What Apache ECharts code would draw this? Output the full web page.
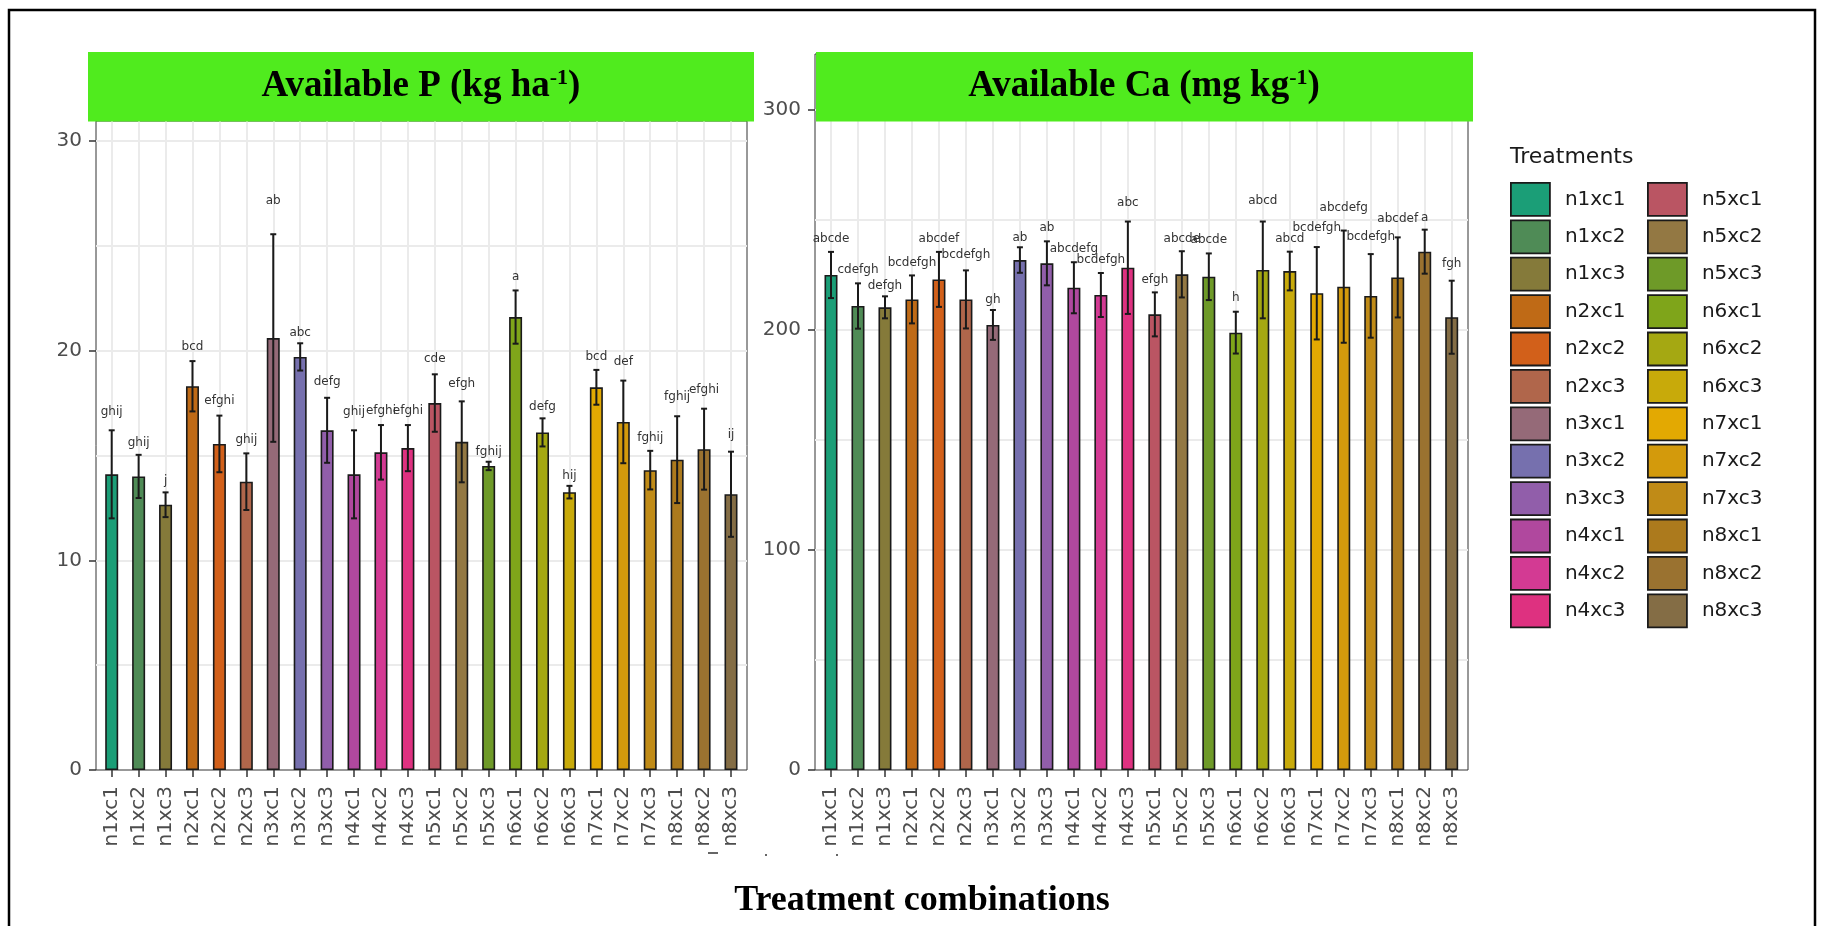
<!DOCTYPE html>
<html>
<head>
<meta charset="utf-8">
<script src="https://cdn.jsdelivr.net/npm/echarts@6/dist/echarts.min.js"></script>
<style>
html,body{margin:0;padding:0;background:#fff;}
#chart{width:1822px;height:926px;}
</style>
</head>
<body>
<div id="chart"></div>
<script>
// ---------- data ----------
const categories = ['n1xc1','n1xc2','n1xc3','n2xc1','n2xc2','n2xc3','n3xc1','n3xc2','n3xc3','n4xc1','n4xc2','n4xc3',
                    'n5xc1','n5xc2','n5xc3','n6xc1','n6xc2','n6xc3','n7xc1','n7xc2','n7xc3','n8xc1','n8xc2','n8xc3'];

const pMean    = [14.1, 14.0, 12.65, 18.3, 15.55, 13.75, 20.6, 19.7, 16.2, 14.1, 15.15, 15.35, 17.5, 15.65, 14.5, 21.6, 16.1, 13.25, 18.25, 16.6, 14.3, 14.8, 15.3, 13.15];
const pSE      = [2.1, 1.03, 0.59, 1.2, 1.35, 1.35, 4.95, 0.65, 1.55, 2.1, 1.3, 1.1, 1.37, 1.93, 0.2, 1.27, 0.67, 0.3, 0.83, 1.97, 0.92, 2.07, 1.93, 2.03];
const pLetterY = [17.1, 15.62, 13.8, 20.2, 17.62, 15.72, 27.16, 20.84, 18.53, 17.1, 17.14, 17.14, 19.6, 18.41, 15.15, 23.5, 17.34, 14.03, 19.68, 19.46, 15.84, 17.78, 18.14, 16.0];
const pLetters = ['ghij','ghij','j','bcd','efghi','ghij','ab','abc','defg','ghij','efghi','efghi','cde','efgh','fghij','a','defg','hij','bcd','def','fghij','fghij','efghi','ij'];

const caMean    = [225, 210.9, 210.3, 213.9, 223, 213.9, 202.3, 231.8, 230.3, 219.2, 215.9, 228.3, 207.1, 225.3, 224.2, 198.8, 227.3, 226.8, 216.7, 219.7, 215.5, 223.9, 235.6, 205.8];
const caSE      = [10.5, 10.3, 5, 10.9, 12.5, 13.2, 6.8, 5.8, 10, 11.6, 10, 21, 10, 10.5, 10.6, 9.5, 22, 8.8, 21, 25.5, 19, 18.2, 10, 16.6];
const caLetterY = [241.4, 227.3, 220, 230.6, 241.4, 234.1, 213.9, 242, 246.2, 236.8, 231.8, 258, 223, 241.4, 240.9, 214.4, 258.6, 241.2, 246.5, 255.6, 242.1, 250.5, 251, 230];
const caLetters = ['abcde','cdefgh','defgh','bcdefgh','abcdef','bcdefgh','gh','ab','ab','abcdefg','bcdefgh','abc','efgh','abcde','abcde','h','abcd','abcd','bcdefgh','abcdefg','bcdefgh','abcdef','a','fgh'];

const pTicks  = [0, 10, 20, 30];
const caTicks = [0, 100, 200, 300];

const panelTitles = ['Available P (kg ha', 'Available Ca (mg kg'];
const legendTitle = 'Treatments';
const xTitle = 'Treatment combinations';

// ---------- style ----------
const barColors = ['#1B9E77','#4F8B56','#857A3A','#BF6A16','#D2601A','#B0664B','#956A78','#7670AE','#915EAA','#B0489E','#D33A93','#DE3180',
                   '#BA5563','#937843','#6E9A28','#7FA51A','#A5A812','#C8AA0A','#E3A902','#D39A0C','#C08B17','#AC7A1D','#9A7230','#846D45'];
const STRIP = '#50EB1E';
const GRID_LINE = '#EBEBEB';
const AXIS_TXT = '#4D4D4D';
const SANS = 'DejaVu Sans';
const SERIF = 'Liberation Serif';

const L = {frameLeft:96, frameRight:747, top:121, bottom:770, first:111.7, last:731, max:30.95};
const R = {frameLeft:815, frameRight:1468, top:54, bottom:770, first:831, last:1451.7, max:325.45};

function frameGrid(g){ return {left:g.frameLeft, top:g.top, width:g.frameRight-g.frameLeft, height:g.bottom-g.top,
  show:true, borderColor:'#333', borderWidth:1, backgroundColor:'transparent', containLabel:false}; }
function barGrid(g){ return {left:g.first, top:g.top, width:g.last-g.first, height:g.bottom-g.top, show:false, containLabel:false}; }

function hiddenX(gi){ return {type:'value', gridIndex:gi, min:0, max:1, show:false}; }
function catX(gi){
  return {type:'category', gridIndex:gi, data:categories, boundaryGap:false,
    axisLine:{show:false},
    axisTick:{show:true, interval:0, length:7, lineStyle:{color:'#333', width:1.5}},
    axisLabel:{show:true, interval:0, rotate:90, margin:16, fontSize:20, fontFamily:SANS, color:AXIS_TXT},
    splitLine:{show:true, interval:0, lineStyle:{color:GRID_LINE, width:2}}};
}
function splitY(gi, max, step){
  return {type:'value', gridIndex:gi, min:0, max:max, interval:step,
    axisLine:{show:false}, axisTick:{show:false}, axisLabel:{show:false},
    splitLine:{show:true, showMinLine:false, showMaxLine:false, lineStyle:{color:GRID_LINE, width:2}}};
}
function labelY(gi, max, step, ticks){
  return {type:'value', gridIndex:gi, min:0, max:max, interval:step, position:'left',
    axisLine:{show:false},
    axisTick:{show:true, length:7, customValues:ticks, lineStyle:{color:'#333', width:1.5}},
    axisLabel:{show:true, margin:14, customValues:ticks, fontSize:20, fontFamily:SANS, color:AXIS_TXT,
      formatter:function(v){ return ticks.indexOf(v) >= 0 ? String(v) : ''; }},
    splitLine:{show:false}};
}
function hiddenY(gi, max){ return {type:'value', gridIndex:gi, min:0, max:max, show:false, splitLine:{show:false}}; }

function barSeries(values, xi, yi){
  return categories.map(function(name, i){
    return {type:'bar', name:name, xAxisIndex:xi, yAxisIndex:yi, barWidth:13, barGap:'-100%', clip:false, z:2,
      itemStyle:{color:barColors[i], borderColor:'#1a1a1a', borderWidth:1.6},
      data: values.map(function(v, j){ return j === i ? v : null; })};
  });
}
function errSeries(means, ses, ly, letters, xi, yi){
  return {type:'custom', xAxisIndex:xi, yAxisIndex:yi, z:5, silent:true,
    data: means.map(function(v, i){ return [i, v]; }),
    renderItem:function(params, api){
      const i = params.dataIndex;
      const x = api.coord([i, 0])[0];
      const yT = api.coord([i, means[i] + ses[i]])[1];
      const yB = api.coord([i, means[i] - ses[i]])[1];
      const yL = api.coord([i, ly[i]])[1];
      const st = {stroke:'#1a1a1a', lineWidth:2};
      return {type:'group', children:[
        {type:'line', shape:{x1:x, y1:yT, x2:x, y2:yB}, style:st},
        {type:'line', shape:{x1:x-3, y1:yT, x2:x+3, y2:yT}, style:st},
        {type:'line', shape:{x1:x-3, y1:yB, x2:x+3, y2:yB}, style:st},
        {type:'text', style:{x:x, y:yL, text:letters[i], align:'center', verticalAlign:'middle',
          textAlign:'center', textVerticalAlign:'middle', fontSize:12, fontFamily:SANS, fill:'#333'}}
      ]};
    }};
}

function stripTitle(cx, base){
  return {type:'text', z:21, style:{x:cx, y:86, text:'{t|' + base + '}{s|-1}{t|)}',
    align:'center', verticalAlign:'middle', textAlign:'center', textVerticalAlign:'middle',
    rich:{ t:{fontSize:37, fontWeight:'bold', fontFamily:SERIF, fill:'#000', color:'#000'},
           s:{fontSize:22, fontWeight:'bold', fontFamily:SERIF, fill:'#000', color:'#000', verticalAlign:'top'} }}};
}

function legendCol(names, left){
  return {data:names, orient:'vertical', left:left, top:182, padding:0,
    itemWidth:39, itemHeight:33, itemGap:2.6, icon:'rect', selectedMode:false,
    itemStyle:{borderColor:'#1a1a1a', borderWidth:1.8},
    textStyle:{fontFamily:SANS, fontSize:20, color:'#1a1a1a', padding:[0,0,0,10]}};
}

const option = {
  backgroundColor:'#ffffff',
  animation:false,
  grid:[frameGrid(L), barGrid(L), frameGrid(R), barGrid(R)],
  xAxis:[hiddenX(0), catX(1), hiddenX(2), catX(3)],
  yAxis:[splitY(0, L.max, 5), labelY(0, L.max, 10, pTicks), hiddenY(1, L.max),
         splitY(2, R.max, 50), labelY(2, R.max, 100, caTicks), hiddenY(3, R.max)],
  legend:[legendCol(categories.slice(0, 12), 1510), legendCol(categories.slice(12), 1647)],
  series: [].concat(
    barSeries(pMean, 1, 2),
    [errSeries(pMean, pSE, pLetterY, pLetters, 1, 2)],
    barSeries(caMean, 3, 5),
    [errSeries(caMean, caSE, caLetterY, caLetters, 3, 5)]
  ),
  graphic:[
    {type:'rect', z:20, shape:{x:88, y:52, width:666, height:69.5}, style:{fill:STRIP}},
    {type:'rect', z:20, shape:{x:816, y:52, width:657, height:69.5}, style:{fill:STRIP}},
    stripTitle(421, panelTitles[0]),
    stripTitle(1144, panelTitles[1]),
    {type:'text', z:21, style:{x:1510, y:157, text:legendTitle, fontSize:22, fontFamily:SANS, fill:'#1a1a1a',
      align:'left', verticalAlign:'middle', textAlign:'left', textVerticalAlign:'middle'}},
    {type:'text', z:21, style:{x:922, y:901, text:xTitle, fontSize:36, fontWeight:'bold', fontFamily:SERIF, fill:'#000',
      align:'center', verticalAlign:'middle', textAlign:'center', textVerticalAlign:'middle'}},
    {type:'line', z:21, shape:{x1:708, y1:853, x2:718, y2:853}, style:{stroke:'#333', lineWidth:1.5}},
    {type:'circle', z:21, shape:{cx:766, cy:855, r:1}, style:{fill:'#333'}},
    {type:'circle', z:21, shape:{cx:837, cy:855, r:1}, style:{fill:'#333'}},
    {type:'rect', z:22, shape:{x:9, y:10, width:1806, height:980}, style:{fill:'none', stroke:'#000', lineWidth:2.5}}
  ]
};

const chart = echarts.init(document.getElementById('chart'), null, {renderer:'canvas', width:1822, height:926});
chart.setOption(option);
</script>
</body>
</html>
